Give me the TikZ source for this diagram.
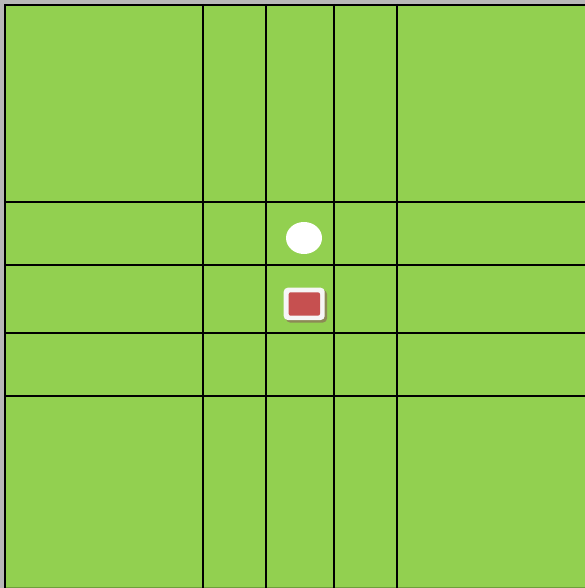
\documentclass[tikz,border=0pt]{standalone}
\usetikzlibrary{shapes.geometric}
\definecolor{grass}{HTML}{92D050}
\definecolor{edgegray}{HTML}{B8B8B8}
\definecolor{chip}{HTML}{C65050}
\definecolor{chipshadow}{HTML}{8C8A55}
\definecolor{darkgrass}{HTML}{6E9E3C}
\begin{document}
\begin{tikzpicture}[x=1pt,y=-1pt,
  gridline/.style={black,line width=2pt},
  token/.style={ellipse,fill=white,minimum width=36pt,minimum height=32pt,inner sep=0pt},
  tilebox/.style={fill=chip,rounded corners=2pt,minimum width=31.3pt,minimum height=23.4pt,inner sep=0pt},
]
\useasboundingbox (0,0) rectangle (585,588);
\fill[edgegray] (0,0) rectangle (585,588);
\fill[grass] (4,4) rectangle (585,588);
\draw[darkgrass,line width=1pt] (4,587.5) -- (585,587.5);
% grid lines
\foreach \x in {5,203,266,334,397} \draw[gridline] (\x,4) -- (\x,588);
\foreach \y in {5,202,265,333,396} \draw[gridline] (4,\y) -- (585,\y);
% white token
\node[token] (ball) at (304,238) {};
% red tile with white frame and shadow
\fill[chipshadow,rounded corners=4pt] (286,290) rectangle (327,322.5);
\fill[white!93!gray,rounded corners=4pt] (283.7,287.7) rectangle (324.7,320);
\node[tilebox] (tile) at (304.35,304) {};
\end{tikzpicture}
\end{document}
